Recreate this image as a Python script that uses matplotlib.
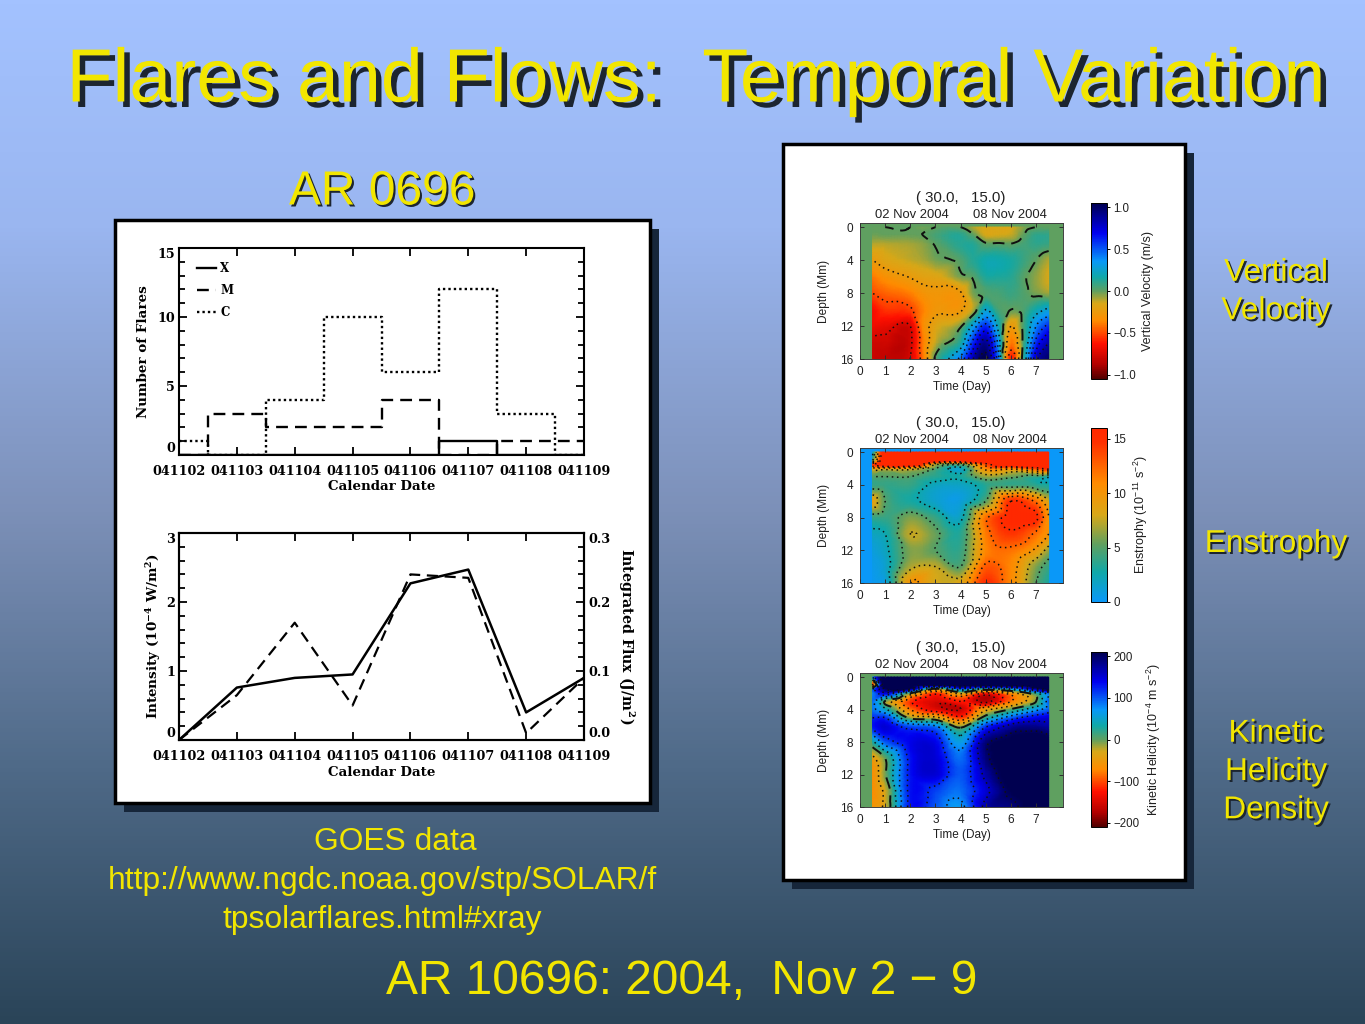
import numpy as np
import matplotlib
matplotlib.use("Agg")
import matplotlib.pyplot as plt
import matplotlib.patheffects as pe
import matplotlib.tri as mtri
from matplotlib.cm import ScalarMappable
from matplotlib.colors import LinearSegmentedColormap, Normalize
from matplotlib.patches import Rectangle

W, H = 1365, 1024
plt.rcParams["font.family"] = ["Liberation Sans", "DejaVu Sans"]
plt.rcParams["mathtext.default"] = "regular"

# GOES panels, days since 041102
dates = ["041102", "041103", "041104", "041105", "041106", "041107", "041108", "041109"]
day_index = [0, 1, 2, 3, 4, 5, 6, 7]
flares_x = [0, 0, 0, 0, 0, 1, 0, 0]
flares_m = [0, 3, 2, 2, 4, 0, 1, 1]
flares_c = [1, 0, 4, 10, 6, 12, 3, 0]
intensity = [0, 0.76, 0.90, 0.95, 2.27, 2.47, 0.40, 0.90]
flux = [0, 0.065, 0.17, 0.05, 0.24, 0.235, 0.01, 0.09]

# flow maps at these days / depths
vel_days = [0.5, 1, 2, 2.5, 3, 4, 4.5, 5, 5.5, 6, 6.5, 7, 7.5]
vel_depths = [0, 1, 2, 4, 6, 8, 10, 12, 14, 16]
velocity = [
    [0, 0, 0, -0.02, 0, 0, -0.1, -0.15, -0.15, -0.15, -0.05, 0, 0],
    [-0.02, -0.01, -0.01, 0, 0.05, 0.12, 0.02, -0.14, -0.14, -0.12, 0, 0.1, 0.1],
    [-0.1, -0.1, -0.08, -0.05, 0.01, 0.12, 0.12, 0.01, 0.01, 0, 0.05, 0.1, 0.08],
    [-0.25, -0.18, -0.12, -0.09, -0.03, 0.03, 0.12, 0.18, 0.18, 0.15, 0.08, 0, -0.1],
    [-0.4, -0.32, -0.24, -0.2, -0.18, -0.03, 0.02, 0.14, 0.14, 0.12, 0.02, -0.06, -0.15],
    [-0.5, -0.45, -0.38, -0.3, -0.28, -0.26, -0.03, 0.03, 0.05, 0.08, 0.03, -0.03, -0.08],
    [-0.65, -0.55, -0.52, -0.38, -0.28, -0.27, -0.1, 0.25, 0.05, 0, 0.04, 0.18, 0.28],
    [-0.68, -0.7, -0.75, -0.35, -0.18, -0.02, 0.3, 0.6, 0.2, -0.25, 0.05, 0.4, 0.6],
    [-0.78, -0.78, -0.78, -0.4, -0.12, 0.15, 0.6, 0.9, 0.35, -0.4, 0.05, 0.6, 0.85],
    [-0.8, -0.82, -0.75, -0.42, 0.03, 0.45, 0.85, 1.05, 0.45, -0.6, 0.1, 0.8, 1.0],
]
map_days = [0.5, 1, 2, 3, 4, 5, 6, 7, 7.5]
ens_depths = [0, 1, 1.5, 2, 3, 4, 6, 8, 10, 12, 14, 16]
enstrophy = [
    [2, 20, 20, 20, 20, 20, 20, 20, 20],
    [5, 20, 20, 20, 20, 20, 20, 20, 20],
    [14, 20, 20, 8, 6, 14, 20, 20, 20],
    [9, 9, 9, 5, 2, 11, 11, 14, 16],
    [5, 5, 5, 3.5, 3, 6.5, 5.5, 4, 3],
    [4, 4, 4, 2, 1.8, 3.5, 4, 3.5, 3],
    [9, 5, 3, 1.5, 1, 5, 15, 12, 8],
    [4, 4, 6, 4, 2, 12, 16, 15.5, 10],
    [2, 2.5, 7.5, 5.5, 3.5, 11.5, 14.5, 12, 10],
    [1, 2, 6, 5, 4, 11, 12, 9.5, 6.5],
    [0.5, 1.5, 7, 7.5, 5, 13, 11, 6, 4],
    [0.2, 1, 10, 8, 8.5, 15, 11, 5, 3],
]
hel_depths = [0, 1, 1.5, 2, 3, 4, 5, 6, 8, 10, 12, 14, 16]
helicity = [
    [80, 240, 240, 240, 240, 240, 240, 240, 240],
    [-120, 240, 240, 230, 240, 240, 240, 240, 240],
    [80, 200, 200, -20, 100, 30, 60, 180, 230],
    [80, 150, 0, -110, -30, -130, -60, 30, 100],
    [90, -5, -110, -150, -120, -170, -80, 0, 100],
    [90, 50, -80, -140, -160, -50, 5, 70, 100],
    [120, 120, -10, -30, -110, 20, 100, 140, 150],
    [130, 150, 100, 80, -15, 110, 170, 180, 170],
    [30, 100, 140, 140, 60, 190, 220, 230, 220],
    [-50, 0, 130, 150, 90, 190, 240, 240, 240],
    [-70, -5, 130, 150, 100, 170, 230, 240, 240],
    [-70, -30, 130, 110, 90, 150, 210, 230, 240],
    [-60, -30, 130, 100, 70, 170, 190, 230, 240],
]

vel_cmap = LinearSegmentedColormap.from_list("vel", [
    (0.0, "#500000"), (0.08, "#b00000"), (0.2, "#ff1000"), (0.33, "#ff8c00"),
    (0.43, "#d8a818"), (0.5, "#5fa060"), (0.58, "#10a8a8"), (0.67, "#0898f8"),
    (0.83, "#0000f0"), (1.0, "#000050")])
ens_cmap = LinearSegmentedColormap.from_list("ens", [
    (0.0, "#0a98f8"), (0.17, "#10a8a8"), (0.33, "#5fa060"), (0.5, "#d8a818"),
    (0.68, "#ff8c00"), (0.92, "#ff3000"), (1.0, "#ff2800")])


def px_axes(l, t, r, b):
    return fig.add_axes([l / W, 1 - b / H, (r - l) / W, (b - t) / H])


fig = plt.figure(figsize=(W / 100, H / 100), dpi=100)

# slide background and white boxes
bg = fig.add_axes([0, 0, 1, 1])
bg.set_xlim(0, W)
bg.set_ylim(H, 0)
bg.axis("off")
grad_cmap = LinearSegmentedColormap.from_list("slide", [
    (0.0, "#a3c2ff"), (0.22, "#9ab6f0"), (0.5, "#7c90b8"), (0.75, "#4f6a88"), (1.0, "#2a4458")])
bg.imshow(np.linspace(0, 1, 256).reshape(-1, 1), cmap=grad_cmap, extent=[0, W, H, 0], aspect="auto", zorder=0)

for l, t, r, b in [(115, 220, 650, 803), (783, 144, 1185, 880)]:
    bg.add_patch(Rectangle((l + 9, t + 9), r - l, b - t, fc="#16263a", ec="none", zorder=1))
    bg.add_patch(Rectangle((l, t), r - l, b - t, fc="white", ec="black", lw=2.5, zorder=2))


def slide_text(x, y, s, size, shadow=0):
    t = bg.text(x, y, s, fontsize=size, color="#f2e600", ha="center", va="center", linespacing=1.36, zorder=4)
    if shadow:
        t.set_path_effects([pe.withSimplePatchShadow(offset=(shadow * 0.72, -shadow * 0.72),
                                                     shadow_rgbFace="#1c2530", alpha=1)])


slide_text(696, 82, "Flares and Flows:  Temporal Variation", 54.3, shadow=5.5)
slide_text(382, 192, "AR 0696", 34.5, shadow=2)
slide_text(1276, 292, "Vertical\nVelocity", 22.8, shadow=2)
slide_text(1276, 544, "Enstrophy", 22.8, shadow=2)
slide_text(1276, 772, "Kinetic\nHelicity\nDensity", 22.8, shadow=2)
slide_text(395, 842, "GOES data", 22.9)
slide_text(382, 881, "http://www.ngdc.noaa.gov/stp/SOLAR/f", 22.9)
slide_text(382, 920, "tpsolarflares.html#xray", 22.9)
slide_text(682, 982, "AR 10696: 2004,  Nov 2 \u2212 9", 34.5)

# left hand flare plots
idl = dict(family="DejaVu Serif", fontweight="bold")


def goes_axes(box):
    ax = px_axes(*box)
    ax.set_xlim(0, 7)
    ax.set_xticks(day_index)
    ax.set_xticklabels(dates, fontsize=9.2, **idl)
    ax.set_xlabel("Calendar Date", fontsize=9.6, labelpad=2, **idl)
    ax.tick_params(axis="x", pad=7)
    return ax


def goes_ticks(ax):
    ax.tick_params(which="both", direction="in", width=1.3)
    ax.tick_params(which="major", length=6)
    ax.tick_params(which="minor", length=4)
    ax.tick_params(axis="y", pad=3)
    for s in ax.spines.values():
        s.set_linewidth(1.5)
    # end labels sit inside the axis span
    labels = ax.get_yticklabels()
    labels[0].set_va("bottom")
    labels[-1].set_va("top")


ax1 = goes_axes((179, 248, 584, 455))
ax1.plot(day_index, flares_x, color="black", lw=1.7, drawstyle="steps-mid", label="X")
ax1.plot(day_index, flares_m, color="black", lw=1.7, ls=(0, (5, 3)), drawstyle="steps-mid", label="M")
ax1.plot(day_index, flares_c, color="black", lw=1.7, ls=(0, (1, 1.3)), drawstyle="steps-mid", label="C")
ax1.set_ylim(0, 15)
ax1.set_yticks([0, 5, 10, 15])
ax1.set_yticks(np.arange(0, 16), minor=True)
ax1.set_yticklabels(["0", "5", "10", "15"], fontsize=9.2, **idl)
ax1.tick_params(which="both", top=True, right=True)
goes_ticks(ax1)
ax1.set_ylabel("Number of Flares", fontsize=9.7, labelpad=5, **idl)
ax1.legend(loc="upper left", bbox_to_anchor=(0.044, 0.932), frameon=False, handlelength=1.6, labelspacing=0.78,
           borderaxespad=0, borderpad=0, handletextpad=0.4, prop=dict(family="DejaVu Serif", weight="bold", size=8.5))

ax2 = goes_axes((179, 533, 584, 740))
ax2.plot(day_index, intensity, color="black", lw=1.8)
ax2.set_ylim(0, 3)
ax2.set_yticks([0, 1, 2, 3])
ax2.set_yticks(np.arange(0, 3.01, 0.2), minor=True)
ax2.set_yticklabels(["0", "1", "2", "3"], fontsize=9.2, **idl)
ax2.tick_params(axis="x", which="both", top=True)
goes_ticks(ax2)
ax2.set_ylabel("Intensity (10$^{-4}$ W/m$^2$)", fontsize=9.7, labelpad=2, **idl)
ax2r = ax2.twinx()
ax2r.plot(day_index, flux, color="black", lw=1.6, ls=(0, (5, 3)))
ax2r.set_ylim(0, 0.3)
ax2r.set_yticks([0, 0.1, 0.2, 0.3])
ax2r.set_yticks(np.arange(0, 0.301, 0.02), minor=True)
ax2r.set_yticklabels(["0.0", "0.1", "0.2", "0.3"], fontsize=9.2, **idl)
goes_ticks(ax2r)
ax2r.set_ylabel("Integrated Flux (J/m$^2$)", fontsize=10.2, rotation=-90, labelpad=19, **idl)


# right hand flow maps
def flow_map(box, cbar_box, title_y, days, depths, values, cmap, vmin, vmax, levels, zero_level, face,
             cbar_ticks, cbar_labels, cbar_label):
    ax = px_axes(*box)
    ax.set_facecolor(face)
    ax.set_xlim(0, 8.07)
    ax.set_ylim(16, -0.5)
    dd, zz = np.meshgrid(days, depths)
    tri = mtri.Triangulation(dd.ravel(), zz.ravel())
    field = np.array(values, dtype=float).ravel()
    refiner = mtri.UniformTriRefiner(tri)
    fine, fine_z = refiner.refine_field(field, mtri.CubicTriInterpolator(tri, field, kind="geom"), subdiv=3)
    norm = Normalize(vmin, vmax)
    ax.tripcolor(fine, fine_z, cmap=cmap, norm=norm, shading="gouraud")
    ax.tricontour(fine, fine_z, levels=levels, colors="#101010", linewidths=1.1, linestyles=[(0, (1, 2.4))])
    if zero_level is not None:
        ax.tricontour(fine, fine_z, levels=[zero_level], colors="#101010", linewidths=1.4,
                      linestyles=[(0, (6, 3.5))])
    ax.set_xticks(range(8))
    ax.set_yticks([0, 4, 8, 12, 16])
    ax.tick_params(direction="in", top=True, right=True, length=3, width=0.7, labelsize=8.5, pad=5,
                   color="#303030", labelcolor="#202020")
    ax.set_axisbelow(False)
    ax.set_xlabel("Time (Day)", fontsize=8.5, labelpad=2.5, color="#202020")
    ax.set_ylabel("Depth (Mm)", fontsize=8.6, labelpad=7, color="#202020")
    for s in ax.spines.values():
        s.set_linewidth(0.7)
        s.set_color("#404040")
    bg.text(961, title_y, "( 30.0,   15.0)", fontsize=10.8, color="#202020", ha="center", va="center", zorder=5)
    bg.text(912, title_y + 17, "02 Nov 2004", fontsize=9.4, color="#202020", ha="center", va="center", zorder=5)
    bg.text(1010, title_y + 17, "08 Nov 2004", fontsize=9.4, color="#202020", ha="center", va="center", zorder=5)

    cax = px_axes(*cbar_box)
    cb = fig.colorbar(ScalarMappable(norm=norm, cmap=cmap), cax=cax)
    cb.set_ticks(cbar_ticks)
    cb.set_ticklabels(cbar_labels)
    cb.ax.tick_params(direction="out", length=2.5, width=0.7, labelsize=8.3, pad=2, labelcolor="#202020")
    cb.outline.set_linewidth(0.7)
    cb.set_label(cbar_label, fontsize=9, labelpad=4, color="#202020")


flow_map((860, 223, 1063, 359), (1091, 203, 1107, 379), 198, vel_days, vel_depths, velocity, vel_cmap, -1.05, 1.05,
         [-0.75, -0.5, -0.25, 0.25, 0.4, 0.55, 0.7, 0.85, 1.0], 0, "#5fa060",
         [-1, -0.5, 0, 0.5, 1], ["\u22121.0", "\u22120.5", "0.0", "0.5", "1.0"], "Vertical Velocity (m/s)")
flow_map((860, 448, 1063, 583), (1091, 428, 1107, 602), 423, map_days, ens_depths, enstrophy, ens_cmap, 0, 16,
         [2.5, 5, 7.5, 10, 12.5, 15], None, "#0a98f8",
         [0, 5, 10, 15], ["0", "5", "10", "15"], "Enstrophy (10$^{-11}$ s$^{-2}$)")
flow_map((860, 673, 1063, 807), (1091, 652, 1107, 827), 648, map_days, hel_depths, helicity, vel_cmap, -210, 210,
         [-160, -120, -80, -40, 40, 80, 120, 160, 200], 0, "#5fa060",
         [-200, -100, 0, 100, 200], ["\u2212200", "\u2212100", "0", "100", "200"],
         "Kinetic Helicity (10$^{-4}$ m s$^{-2}$)")

fig.savefig("out.png", dpi=100)
